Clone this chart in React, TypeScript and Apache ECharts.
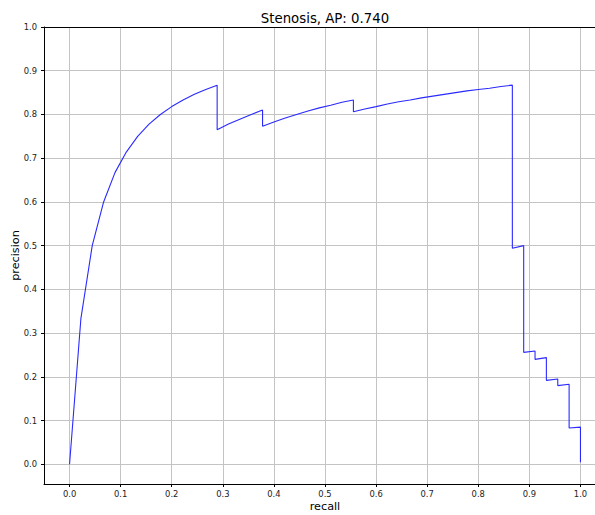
import React, { useEffect, useRef } from "react";
import * as echarts from "echarts";

const TITLE = "Stenosis, AP: 0.740";
const X_NAME = "recall";
const Y_NAME = "precision";

// (repeated recall values are vertical drops)
const recall = [
  0.0, 0.0222, 0.0444, 0.0667, 0.0889, 0.1111, 0.1333, 0.1556, 0.1778, 0.2, 0.2222,
  0.2444, 0.2667, 0.2889, 0.2889, 0.3111, 0.3333, 0.3556, 0.3778, 0.3778, 0.4, 0.4222,
  0.4444, 0.4667, 0.4889, 0.5111, 0.5333, 0.5556, 0.5556, 0.5778, 0.6, 0.6222, 0.6444,
  0.6667, 0.6889, 0.7111, 0.7333, 0.7556, 0.7778, 0.8, 0.8222, 0.8444, 0.8667, 0.8667,
  0.8889, 0.8889, 0.9111, 0.9111, 0.9333, 0.9333, 0.9556, 0.9556, 0.9778, 0.9778, 1.0, 1.0,
];
const precision = [
  0.0, 0.333, 0.5, 0.6, 0.667, 0.714, 0.75, 0.778, 0.8, 0.818, 0.833,
  0.846, 0.857, 0.867, 0.765, 0.778, 0.789, 0.8, 0.81, 0.773, 0.783, 0.792,
  0.8, 0.808, 0.815, 0.821, 0.828, 0.833, 0.806, 0.8125, 0.818, 0.824, 0.829,
  0.833, 0.838, 0.842, 0.846, 0.85, 0.854, 0.857, 0.86, 0.864, 0.867, 0.494,
  0.5, 0.256, 0.259, 0.24, 0.244, 0.192, 0.195, 0.18, 0.183, 0.083, 0.085, 0.005,
];

const xTicks = [0.0, 0.1, 0.2, 0.3, 0.4, 0.5, 0.6, 0.7, 0.8, 0.9, 1.0];
const yTicks = [0.0, 0.1, 0.2, 0.3, 0.4, 0.5, 0.6, 0.7, 0.8, 0.9, 1.0];

const FONT = "DejaVu Sans";

export default function App() {
  const ref = useRef<HTMLDivElement>(null);
  useEffect(() => {
    if (!ref.current) return;
    const chart = echarts.init(ref.current, undefined, { renderer: "svg" });
    const data = recall.map((r, i) => [r, precision[i]]);
    const axisLine = { show: true, onZero: false, lineStyle: { color: "#000", width: 1 } };
    const labelStyle = {
      fontFamily: FONT,
      fontSize: 8.4,
      color: "#222",
      formatter: (v: number) => v.toFixed(1),
    };
    chart.setOption({
      animation: false,
      backgroundColor: "#fff",
      grid: { left: 44, top: 27, width: 562, height: 457, containLabel: false, outerBoundsMode: "none" },
      graphic: [
        {
          type: "text",
          x: 325,
          y: 18,
          style: {
            text: TITLE,
            fontFamily: FONT,
            fontSize: 13.3,
            fill: "#000",
            textAlign: "center",
            textVerticalAlign: "middle",
          },
        },
      ],
      xAxis: [
        {
          type: "value",
          min: -0.05,
          max: 1.05,
          position: "bottom",
          axisLine,
          axisTick: { show: true, length: 3, customValues: xTicks, lineStyle: { color: "#000" } },
          axisLabel: { ...labelStyle, margin: 6, customValues: xTicks },
          splitLine: { show: true, lineStyle: { color: "#c4c4c4", width: 1 } },
          name: X_NAME,
          nameLocation: "middle",
          nameGap: 17,
          nameMoveOverlap: false,
          nameTextStyle: { fontFamily: FONT, fontSize: 11.2, color: "#000" },
        },
        {
          type: "value",
          min: -0.05,
          max: 1.05,
          position: "top",
          axisLine,
          axisTick: { show: false },
          axisLabel: { show: false },
          splitLine: { show: false },
        },
      ],
      yAxis: {
        type: "value",
        min: -0.045,
        max: 1.0,
        axisLine,
        axisTick: { show: true, length: 3, customValues: yTicks, lineStyle: { color: "#000" } },
        axisLabel: { ...labelStyle, margin: 7, customValues: yTicks },
        splitLine: { show: true, lineStyle: { color: "#c4c4c4", width: 1 } },
        name: Y_NAME,
        nameLocation: "middle",
        nameGap: 23,
        nameMoveOverlap: false,
        nameTextStyle: { fontFamily: FONT, fontSize: 11.2, color: "#000" },
      },
      series: [
        {
          type: "line",
          data,
          xAxisIndex: 0,
          showSymbol: false,
          symbol: "none",
          lineStyle: { color: "#2a2aff", width: 1.1 },
          z: 3,
        },
      ],
    });
    return () => chart.dispose();
  }, []);
  return (
    <div
      style={{ position: "fixed", left: 0, top: 0, width: 595, height: 515, overflow: "hidden", background: "#fff" }}
    >
      <div ref={ref} style={{ width: 595, height: 515 }} />
    </div>
  );
}
